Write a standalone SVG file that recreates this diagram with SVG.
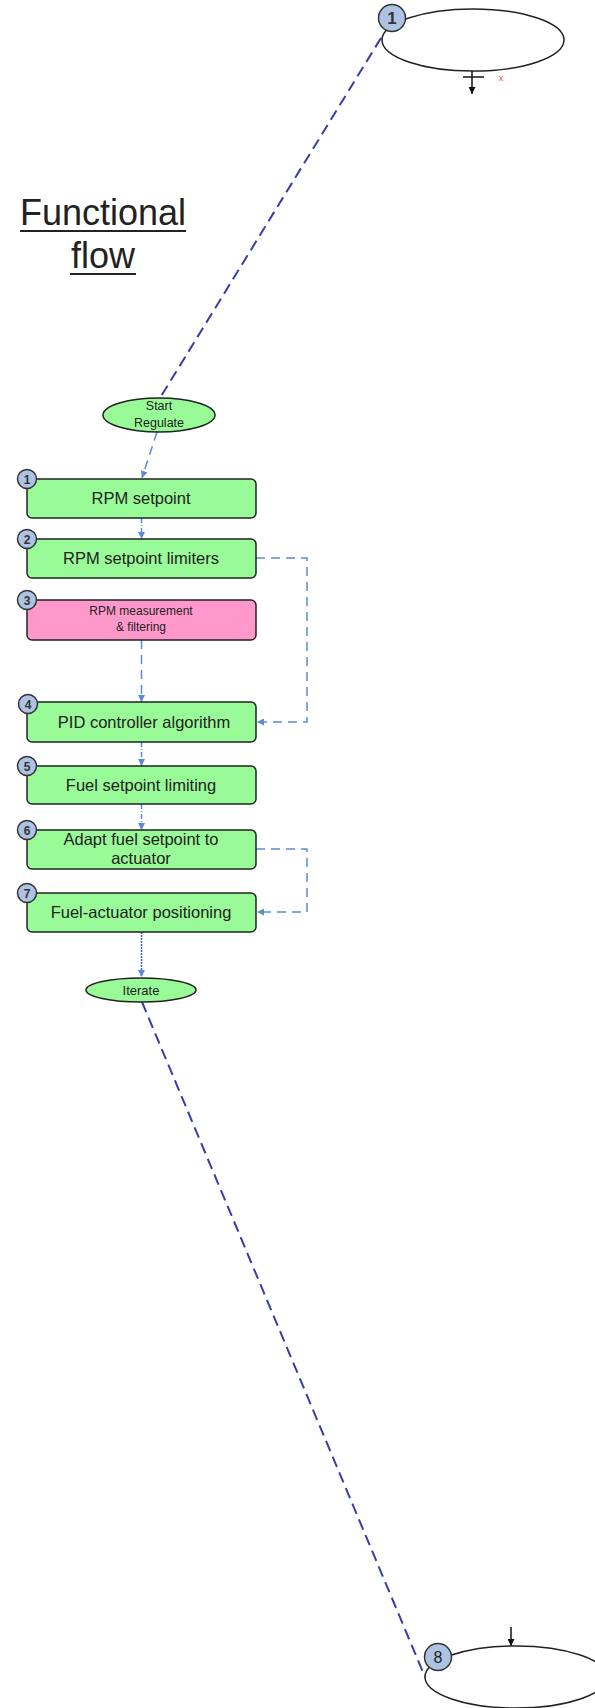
<svg xmlns="http://www.w3.org/2000/svg" width="595" height="1708" viewBox="0 0 595 1708">
<style>
  .box{fill:#99fb98;stroke:#222;stroke-width:1.5}
  .pink{fill:#ff99cc;stroke:#222;stroke-width:1.5}
  .ell{fill:#99fb98;stroke:#222;stroke-width:1.5}
  .big{fill:#fff;stroke:#222;stroke-width:1.5}
  .badge{fill:#aec3e3;stroke:#333;stroke-width:1.5}
  .t{font-family:"Liberation Sans",Arial,sans-serif;fill:#222;text-anchor:middle}
  .bt{font-family:"Liberation Sans",Arial,sans-serif;fill:#333;text-anchor:middle;font-size:12px;font-weight:bold}
  .dark{fill:none;stroke:#3b3bab;stroke-width:2;stroke-dasharray:11,6}
  .lb{fill:none;stroke:#5b8bd6;stroke-width:1.5;stroke-dasharray:9,6}
  .dd{fill:none;stroke:#5b8bd6;stroke-width:1.5;stroke-dasharray:5,2,1,2}
  .dot{fill:none;stroke:#3f5fb0;stroke-width:1.5;stroke-dasharray:2,1}
</style>
<defs>
  <marker id="ab" viewBox="0 0 10 10" refX="10" refY="5" markerWidth="7" markerHeight="7" markerUnits="userSpaceOnUse" orient="auto">
    <path d="M0,0 L10,5 L0,10 z" fill="#5b8bd6"/>
  </marker>
  <marker id="ak" viewBox="0 0 10 10" refX="10" refY="5" markerWidth="7" markerHeight="7" markerUnits="userSpaceOnUse" orient="auto">
    <path d="M0,0 L10,5 L0,10 z" fill="#111"/>
  </marker>
</defs>
<rect width="595" height="1708" fill="#fff"/>

<g id="title">
  <text class="t" x="103" y="225" font-size="36">Functional</text>
  <line x1="20" y1="231" x2="186" y2="231" stroke="#222" stroke-width="2"/>
  <text class="t" x="103" y="268" font-size="36">flow</text>
  <line x1="70" y1="274" x2="136" y2="274" stroke="#222" stroke-width="2"/>
</g>

<g id="connectors">
  <line class="dark" x1="381" y1="38" x2="160" y2="398"/>
  <line class="lb" x1="157" y1="432" x2="142" y2="478" marker-end="url(#ab)"/>
  <line class="dd" x1="141.5" y1="518" x2="141.5" y2="539" marker-end="url(#ab)"/>
  <polyline class="lb" points="256,558 307,558 307,722 257,722" marker-end="url(#ab)"/>
  <line class="lb" x1="141.5" y1="640" x2="141.5" y2="702" marker-end="url(#ab)"/>
  <line class="dd" x1="141.5" y1="742" x2="141.5" y2="766" marker-end="url(#ab)"/>
  <line class="dd" x1="141.5" y1="804" x2="141.5" y2="830" marker-end="url(#ab)"/>
  <polyline class="lb" points="256,849 307,849 307,912 257,912" marker-end="url(#ab)"/>
  <line class="dot" x1="141.5" y1="932" x2="141.5" y2="977" marker-end="url(#ab)"/>
  <line class="dark" x1="142" y1="1002" x2="425" y2="1677"/>
  <line x1="472" y1="71" x2="472" y2="94" stroke="#111" stroke-width="1.5" marker-end="url(#ak)"/>
  <line x1="463" y1="77" x2="484" y2="77" stroke="#111" stroke-width="1.5"/>
  <line x1="511" y1="1627" x2="511" y2="1646" stroke="#111" stroke-width="1.5" marker-end="url(#ak)"/>
</g>

<g id="top-ellipse">
  <ellipse class="big" cx="473" cy="40" rx="91" ry="31"/>
  <circle class="badge" cx="392" cy="18" r="13.5"/>
  <text class="bt" x="392" y="24" font-size="17" style="font-size:17px">1</text>
  <text x="501" y="81" font-family="Liberation Sans, sans-serif" font-size="9" fill="#ff4444" text-anchor="middle">x</text>
</g>

<g id="start">
  <ellipse class="ell" cx="159" cy="415" rx="56" ry="17"/>
  <text class="t" x="159" y="410" font-size="12.5">Start</text>
  <text class="t" x="159" y="427" font-size="12.5">Regulate</text>
</g>

<g id="n1">
  <rect class="box" x="27" y="479" width="229" height="39" rx="5"/>
  <circle class="badge" cx="27" cy="479" r="9.5"/>
  <text class="bt" x="27" y="483.5">1</text>
  <text class="t" x="141" y="504" font-size="16.5">RPM setpoint</text>
</g>
<g id="n2">
  <rect class="box" x="27" y="539" width="229" height="39" rx="5"/>
  <circle class="badge" cx="27" cy="539" r="9.5"/>
  <text class="bt" x="27" y="543.5">2</text>
  <text class="t" x="141" y="564" font-size="16.5">RPM setpoint limiters</text>
</g>
<g id="n3">
  <rect class="pink" x="27" y="600" width="229" height="40" rx="5"/>
  <circle class="badge" cx="27" cy="600" r="9.5"/>
  <text class="bt" x="27" y="604.5">3</text>
  <text class="t" x="141" y="615" font-size="12">RPM measurement</text>
  <text class="t" x="141" y="631" font-size="12">&amp; filtering</text>
</g>
<g id="n4">
  <rect class="box" x="27" y="702" width="229" height="40" rx="5"/>
  <circle class="badge" cx="28" cy="704" r="9.5"/>
  <text class="bt" x="28" y="708.5">4</text>
  <text class="t" x="144" y="728" font-size="16.5">PID controller algorithm</text>
</g>
<g id="n5">
  <rect class="box" x="27" y="766" width="229" height="38" rx="5"/>
  <circle class="badge" cx="27" cy="766" r="9.5"/>
  <text class="bt" x="27" y="770.5">5</text>
  <text class="t" x="141" y="791" font-size="16.5">Fuel setpoint limiting</text>
</g>
<g id="n6">
  <rect class="box" x="27" y="830" width="229" height="39" rx="5"/>
  <circle class="badge" cx="27" cy="830" r="9.5"/>
  <text class="bt" x="27" y="834.5">6</text>
  <text class="t" x="141" y="845" font-size="16.5">Adapt fuel setpoint to</text>
  <text class="t" x="141" y="864" font-size="16.5">actuator</text>
</g>
<g id="n7">
  <rect class="box" x="27" y="893" width="229" height="39" rx="5"/>
  <circle class="badge" cx="27" cy="893" r="9.5"/>
  <text class="bt" x="27" y="897.5">7</text>
  <text class="t" x="141" y="918" font-size="16.5">Fuel-actuator positioning</text>
</g>

<g id="iterate">
  <ellipse class="ell" cx="141" cy="990" rx="55" ry="12"/>
  <text class="t" x="141" y="995" font-size="13">Iterate</text>
</g>

<g id="bottom-ellipse">
  <ellipse class="big" cx="516" cy="1677" rx="91" ry="31"/>
  <circle class="badge" cx="438" cy="1657" r="13.5"/>
  <text class="t" x="438" y="1663" font-size="16" fill="#333">8</text>
</g>
</svg>
